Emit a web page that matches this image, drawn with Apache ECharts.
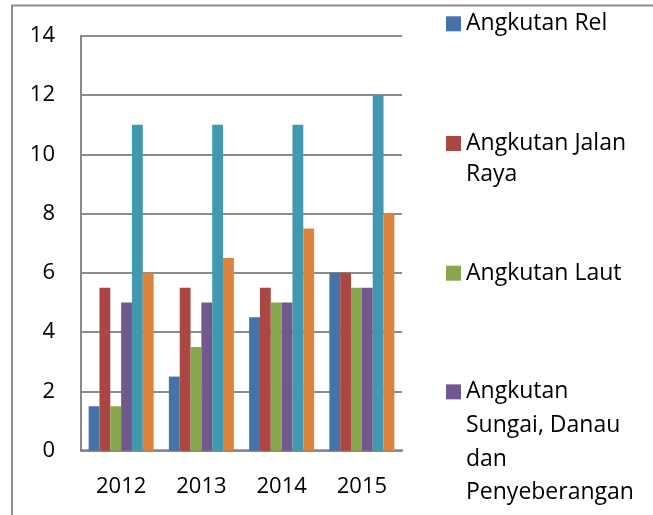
<!DOCTYPE html>
<html><head><meta charset="utf-8">
<script src="https://cdn.jsdelivr.net/npm/echarts@6/dist/echarts.min.js"></script>
<style>html,body{margin:0;padding:0;background:#fff}#c{width:653px;height:515px}</style>
</head><body><div id="c"></div>
<script>
const categories = ['2012', '2013', '2014', '2015'];
const seriesNames = ['Angkutan Rel', 'Angkutan Jalan Raya', 'Angkutan Laut', 'Angkutan Sungai, Danau dan Penyeberangan', 'Angkutan Udara', 'Jasa Penunjang Angkutan'];
const legendLines = [['Angkutan Rel'], ['Angkutan Jalan', 'Raya'], ['Angkutan Laut'], ['Angkutan', 'Sungai, Danau', 'dan', 'Penyeberangan']];
const rel = [1.5, 2.5, 4.5, 6];
const jalanRaya = [5.5, 5.5, 5.5, 6];
const laut = [1.5, 3.5, 5, 5.5];
const sungai = [5, 5, 5, 5.5];
const udara = [11, 11, 11, 12];
const penunjang = [6, 6.5, 7.5, 8];
const yMin = 0, yMax = 14, yStep = 2;

const colors = ['#4572A7', '#AA4643', '#89A54E', '#71588F', '#4198AF', '#DB843D'];
const FONT = '"Open Sans", "Noto Sans", sans-serif';
const values = [rel, jalanRaya, laut, sungai, udara, penunjang];

const legendLayout = [
  { top: 12.3, lineHeight: 15 },
  { top: 97, lineHeight: 31 },
  { top: 261.7, lineHeight: 15 },
  { top: 273.9, lineHeight: 33.7 }
];
// pad with empty lines above so the first line stays level with the icon
function legendText(lines) {
  const blanks = new Array(lines.length - 1).fill('');
  return blanks.concat(lines).join('\n');
}

const chart = echarts.init(document.getElementById('c'), null, { renderer: 'canvas' });
chart.setOption({
  animation: false,
  backgroundColor: '#fff',
  color: colors,
  graphic: [{
    type: 'rect', silent: true, z: -1,
    shape: { x: 12, y: 5.5, width: 700, height: 600 },
    style: { fill: 'none', stroke: '#8c8c8c', lineWidth: 2 }
  }],
  grid: { left: 81, right: 251, top: 35.7, bottom: 64.3, containLabel: false },
  legend: legendLayout.map((l, i) => ({
    data: [seriesNames[i]],
    left: 446, top: l.top, padding: 0,
    orient: 'vertical',
    icon: 'rect', itemWidth: 15, itemHeight: 15,
    selectedMode: false,
    formatter: () => legendText(legendLines[i]),
    textStyle: { fontFamily: FONT, fontSize: 23, color: '#000', lineHeight: l.lineHeight }
  })),
  xAxis: {
    type: 'category', data: categories,
    axisLine: { lineStyle: { color: '#888', width: 2.5 } },
    axisTick: { show: false },
    axisLabel: { fontFamily: FONT, fontSize: 22, color: '#000', margin: 25 },
    splitLine: { show: false }
  },
  yAxis: {
    type: 'value', min: yMin, max: yMax, interval: yStep,
    axisLine: { show: true, lineStyle: { color: '#888', width: 2 } },
    axisTick: { show: false },
    axisLabel: { fontFamily: FONT, fontSize: 22, color: '#000', margin: 26 },
    splitLine: { lineStyle: { color: '#8c8c8c', width: 2 } }
  },
  series: values.map((v, i) => ({
    name: seriesNames[i], type: 'bar', data: v,
    barGap: 0, barCategoryGap: '19%',
    itemStyle: { color: colors[i] }
  }))
});
</script></body></html>
